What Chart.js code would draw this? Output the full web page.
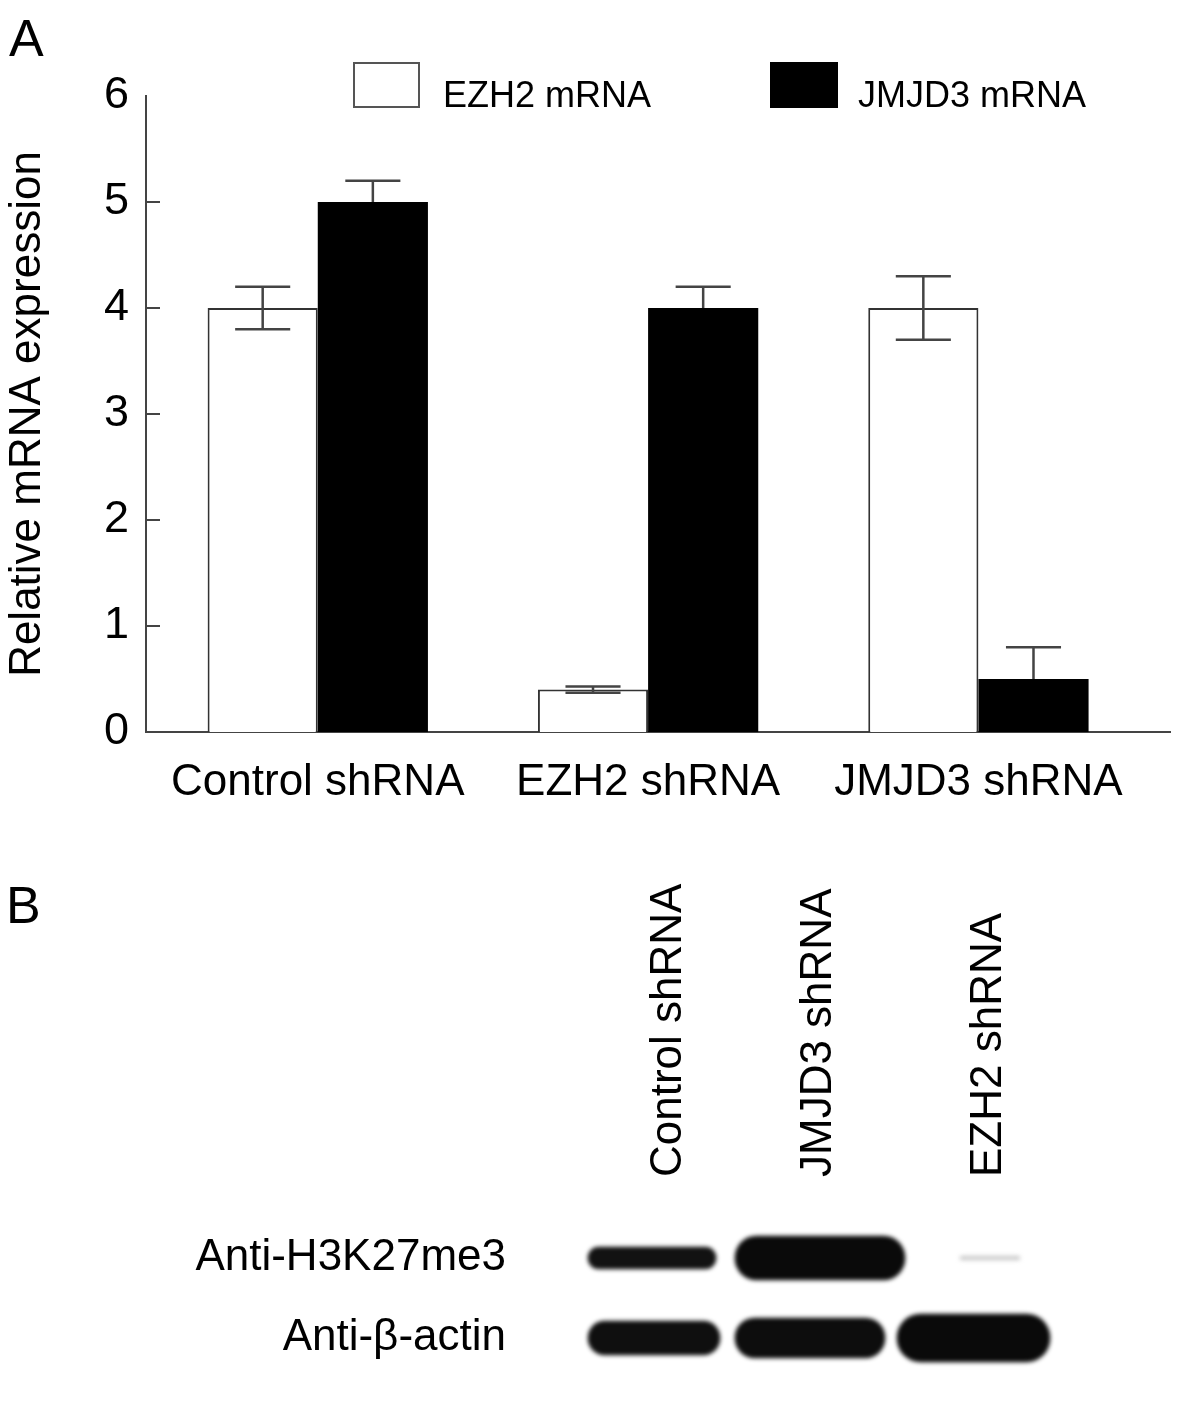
<!DOCTYPE html>
<html lang="en">
<head>
<meta charset="UTF-8">
<title>EZH2 / JMJD3 shRNA</title>
<script src="https://cdn.jsdelivr.net/npm/chart.js@4.4.1/dist/chart.umd.min.js"></script>
<style>
  body { margin: 0; background: #fff; font-family: 'Liberation Sans', Arial, sans-serif; }
  #page { position: relative; width: 1181px; height: 1417px; overflow: hidden; background: #fff; }
  canvas { position: absolute; left: 0; }
  .panel { position: absolute; font-size: 52px; line-height: 1; color: #000; }
  .key { position: absolute; top: 62px; height: 46px; box-sizing: border-box; }
  .keyText { position: absolute; top: 77px; font-size: 36px; line-height: 1; color: #000; white-space: nowrap; }
</style>
</head>
<body>
<div id="page">
  <canvas id="barChart" width="1181" height="830" style="top:0"></canvas>
  <canvas id="blotChart" width="1181" height="557" style="top:860px"></canvas>
  <div class="panel" style="left:9px;top:12px">A</div>
  <div class="panel" style="left:6px;top:879px">B</div>
</div>

<script>
// panel A data
const groups = ['Control shRNA', 'EZH2 shRNA', 'JMJD3 shRNA'];
const seriesNames = ['EZH2 mRNA', 'JMJD3 mRNA'];
const ezh2Values = [4.0, 0.4, 4.0];
const ezh2Errors = [0.2, 0.03, 0.3];
const jmjd3Values = [5.0, 4.0, 0.5];
const jmjd3Errors = [0.2, 0.2, 0.3];
const yTicks = [0, 1, 2, 3, 4, 5, 6];

// panel B (western blot) data
const laneLabels = ['Control shRNA', 'JMJD3 shRNA', 'EZH2 shRNA'];
const lanePositions = [14.5, 29.5, 46.5];
const blotRows = ['Anti-H3K27me3', 'Anti-β-actin'];
const bandRow = [0, 0, 0, 1, 1, 1];
const bandStart = [6.8, 21.5, 44.0, 6.8, 21.5, 37.7];
const bandEnd = [19.6, 38.5, 50.0, 20.0, 36.5, 53.0];
const bandDensity = [0.93, 0.96, 0.2, 0.94, 0.95, 0.96];

// styles
const seriesFill = ['#ffffff', '#000000'];
const seriesBorder = ['#333333', '#000000'];
const bandHeight = [22, 44, 4, 34, 40, 48];
const keyLeft = [353, 770];
const keyTextLeft = [443, 858];

Chart.defaults.font.family = "'Liberation Sans', Arial, sans-serif";
Chart.defaults.color = '#000';

// legend for panel A, plain html
const page = document.getElementById('page');
seriesNames.forEach((name, i) => {
    const box = document.createElement('div');
    box.className = 'key';
    box.style.left = keyLeft[i] + 'px';
    box.style.width = (i === 0 ? 67 : 68) + 'px';
    box.style.background = seriesFill[i];
    box.style.border = i === 0 ? '2px solid #555' : 'none';
    page.appendChild(box);
    const txt = document.createElement('div');
    txt.className = 'keyText';
    txt.style.left = keyTextLeft[i] + 'px';
    txt.textContent = name;
    page.appendChild(txt);
});

function drawErrors(chart, under) {
    const { ctx, scales: { y } } = chart;
    chart.data.datasets.forEach((ds, d) => {
        if (!ds.errors || !!ds.errorsUnder !== under) return;
        const meta = chart.getDatasetMeta(d);
        ctx.save();
        ctx.strokeStyle = '#444';
        ctx.lineWidth = 2.5;
        meta.data.forEach((bar, i) => {
            const v = ds.data[i].y, e = ds.errors[i];
            const top = y.getPixelForValue(v + e);
            const bot = y.getPixelForValue(v - e);
            const half = bar.width / 4;
            ctx.beginPath();
            ctx.moveTo(bar.x, top); ctx.lineTo(bar.x, bot);
            ctx.moveTo(bar.x - half, top); ctx.lineTo(bar.x + half, top);
            ctx.moveTo(bar.x - half, bot); ctx.lineTo(bar.x + half, bot);
            ctx.stroke();
        });
        ctx.restore();
    });
}

const errorBars = {
    id: 'errorBars',
    beforeDatasetsDraw(chart) { drawErrors(chart, true); },
    afterDatasetsDraw(chart) { drawErrors(chart, false); }
};

// short ticks pointing into the plot
const innerTicks = {
    id: 'innerTicks',
    afterDatasetsDraw(chart) {
        const { ctx, chartArea, scales: { y } } = chart;
        ctx.save();
        ctx.strokeStyle = '#444';
        ctx.lineWidth = 2;
        y.ticks.forEach(t => {
            if (t.value <= y.min || t.value >= y.max) return;
            const py = y.getPixelForValue(t.value);
            ctx.beginPath();
            ctx.moveTo(chartArea.left, py);
            ctx.lineTo(chartArea.left + 14, py);
            ctx.stroke();
        });
        ctx.restore();
    }
};

new Chart(document.getElementById('barChart'), {
    type: 'bar',
    data: {
        datasets: [
            {
                label: seriesNames[0],
                data: ezh2Values.map((v, i) => ({ x: i + 1, y: v })),
                errors: ezh2Errors,
                backgroundColor: seriesFill[0],
                borderColor: seriesBorder[0],
                borderWidth: 2
            },
            {
                label: seriesNames[1],
                data: jmjd3Values.map((v, i) => ({ x: i + 1, y: v })),
                errors: jmjd3Errors,
                errorsUnder: true,
                backgroundColor: seriesFill[1],
                borderColor: seriesBorder[1],
                borderWidth: 0
            }
        ]
    },
    options: {
        responsive: false,
        animation: false,
        events: [],
        datasets: { bar: { categoryPercentage: 0.667, barPercentage: 1 } },
        layout: { padding: { top: 96, right: 11, bottom: 0, left: 0 } },
        plugins: { legend: { display: false }, tooltip: { enabled: false } },
        scales: {
            x: {
                type: 'linear',
                min: 0.48,
                max: 3.58,
                offset: false,
                grid: { display: false, offset: false },
                border: { color: '#444', width: 2 },
                afterBuildTicks: s => { s.ticks = groups.map((g, i) => ({ value: i + 1 })); },
                afterFit: s => { s.height = 98; },
                ticks: {
                    callback: (v, i) => groups[i],
                    autoSkip: false,
                    maxRotation: 0,
                    padding: 16,
                    font: { size: 44 }
                }
            },
            y: {
                min: 0,
                max: 6,
                grid: { display: false },
                border: { color: '#444', width: 2 },
                afterBuildTicks: s => { s.ticks = yTicks.map(v => ({ value: v })); },
                afterFit: s => { s.width = 146; },
                ticks: { padding: 9, font: { size: 45 } },
                title: { display: true, text: 'Relative mRNA expression', font: { size: 44 }, padding: { top: 1, bottom: 0 } }
            }
        }
    },
    plugins: [errorBars, innerTicks]
});

// soft edges for the blot bands
const blotBlur = {
    id: 'blotBlur',
    beforeDatasetsDraw(chart) { chart.ctx.save(); chart.ctx.filter = 'blur(2px)'; },
    afterDatasetsDraw(chart) { chart.ctx.restore(); }
};

function shade(d) {
    const g = Math.round(255 * (1 - d));
    return `rgb(${g},${g},${g})`;
}

new Chart(document.getElementById('blotChart'), {
    type: 'bar',
    data: {
        labels: blotRows,
        datasets: bandStart.map((s, i) => ({
            data: [{ x: [s, bandEnd[i]], y: blotRows[bandRow[i]] }],
            backgroundColor: shade(bandDensity[i]),
            barThickness: bandHeight[i],
            borderRadius: bandHeight[i] / 2,
            borderSkipped: false,
            grouped: false
        }))
    },
    options: {
        indexAxis: 'y',
        responsive: false,
        animation: false,
        events: [],
        layout: { padding: { top: 0, right: 21, bottom: 39, left: 0 } },
        plugins: { legend: { display: false }, tooltip: { enabled: false } },
        scales: {
            x: { type: 'linear', min: 0, max: 64, display: false },
            x2: {
                type: 'linear',
                position: 'top',
                min: 0,
                max: 64,
                grid: { display: false },
                border: { display: false },
                afterBuildTicks: s => { s.ticks = lanePositions.map(v => ({ value: v })); },
                afterFit: s => { s.height = 358; },
                ticks: {
                    callback: (v, i) => laneLabels[i],
                    autoSkip: false,
                    minRotation: 90,
                    maxRotation: 90,
                    padding: 33,
                    labelOffset: 57,
                    font: { size: 44 }
                }
            },
            y: {
                type: 'category',
                offset: true,
                grid: { display: false },
                border: { display: false },
                afterFit: s => { s.width = 520; },
                ticks: { padding: 6, font: { size: 44 } }
            }
        }
    },
    plugins: [blotBlur]
});
</script>
</body>
</html>
